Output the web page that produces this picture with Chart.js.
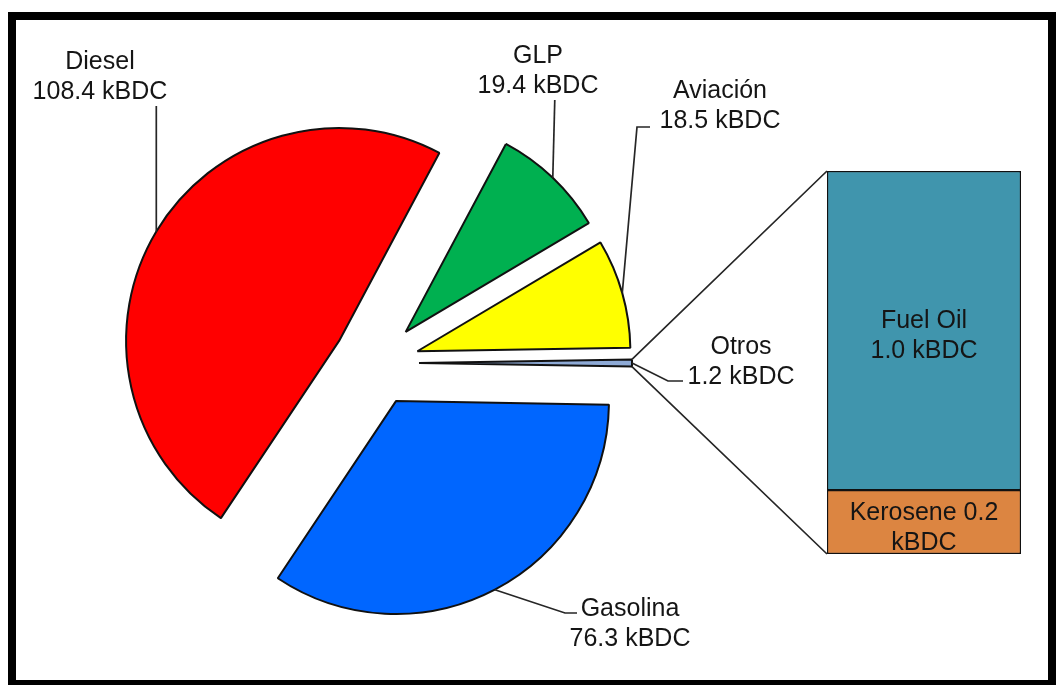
<!DOCTYPE html>
<html>
<head>
<meta charset="utf-8">
<script src="https://cdn.jsdelivr.net/npm/chart.js@4.4.0/dist/chart.umd.min.js"></script>
<style>
  html, body { margin: 0; padding: 0; background: #fff; }
  #wrap { position: relative; width: 1058px; height: 685px; overflow: hidden; background: #fff; }
  #wrap canvas { position: absolute; left: 0; top: 0; }
  #frame {
    position: absolute; left: 8px; top: 12px; width: 1048px; height: 676px;
    border: 8px solid #000; box-sizing: border-box; pointer-events: none;
  }
</style>
</head>
<body>
<div id="wrap">
  <canvas id="pie" width="1058" height="685"></canvas>
  <canvas id="bar" width="1058" height="685"></canvas>
  <div id="frame"></div>
</div>
<script>
// Demand by product (kBDC)
const categories = ['Gasolina', 'Diesel', 'GLP', 'Aviación', 'Otros'];
const volumes = [76.3, 108.4, 19.4, 18.5, 1.2];
const sliceColors = ['#0066ff', '#ff0000', '#00b050', '#ffff00', '#8eaad6'];

// Breakdown of "Otros" (stacked from the bottom)
const otrosParts = ['Kerosene', 'Fuel Oil'];
const otrosValues = [0.2, 1.0];
const otrosColors = ['#dc8541', '#4095ad'];

const unit = 'kBDC';

// Layout
const PIE_R = 213;
const SHIFT = 43;                    // distance each slice is pulled out from the centre
const FONT = '25px "Liberation Sans", Arial, sans-serif';
const TEXT = '#151515';
const LINE = '#262626';
const EDGE = '#111111';

const total = volumes.reduce((a, b) => a + b, 0);
const otrosIndex = categories.indexOf('Otros');
const otrosTotal = otrosValues.reduce((a, b) => a + b, 0);

const fmt = v => v.toFixed(1) + ' ' + unit;

// Outside label placement per category: text centre, first baseline, leader path after the arc anchor
const labelLayout = {
  'Diesel':   { x: 100, y: 69,  leader: a => [[a.x, 106]] },
  'GLP':      { x: 538, y: 63,  leader: a => [[a.x + 2, 100]] },
  'Aviación': { x: 720, y: 98,  leader: a => [[637, 127], [650, 127]] },
  'Gasolina': { x: 630, y: 616, leader: a => [[565, 613], [577, 613]] },
  'Otros':    { x: 741, y: 354, leader: a => [[668, 381], [683, 381]] }
};

function arcGeom(chart, i) {
  const arc = chart.getDatasetMeta(0).data[i];
  const mid = (arc.startAngle + arc.endAngle) / 2;
  const at = ang => ({ x: arc.x + Math.cos(ang) * PIE_R, y: arc.y + Math.sin(ang) * PIE_R });
  return { arc, mid, at };
}

// Exploded pie: move every slice outward along its bisector
const explode = {
  id: 'explode',
  afterDatasetUpdate(chart, args) {
    args.meta.data.forEach(arc => {
      const mid = (arc.startAngle + arc.endAngle) / 2;
      arc.x += Math.cos(mid) * SHIFT;
      arc.y += Math.sin(mid) * SHIFT;
    });
  }
};

const pieLabels = {
  id: 'pieLabels',
  afterDraw(chart) {
    const ctx = chart.ctx;
    ctx.save();
    ctx.font = FONT;
    ctx.textAlign = 'center';
    ctx.textBaseline = 'alphabetic';
    categories.forEach((name, i) => {
      const lay = labelLayout[name];
      const g = arcGeom(chart, i);
      const anchor = g.at(g.mid);
      ctx.strokeStyle = LINE;
      ctx.lineWidth = 1.7;
      ctx.beginPath();
      ctx.moveTo(anchor.x, anchor.y);
      lay.leader(anchor).forEach(p => ctx.lineTo(p[0], p[1]));
      ctx.stroke();
      ctx.fillStyle = TEXT;
      ctx.fillText(name, lay.x, lay.y);
      ctx.fillText(fmt(volumes[i]), lay.x, lay.y + 30);
    });
    ctx.restore();
  }
};

const pieChart = new Chart(document.getElementById('pie'), {
  type: 'pie',
  data: {
    labels: categories,
    datasets: [{
      data: volumes,
      backgroundColor: sliceColors,
      borderColor: EDGE,
      borderWidth: 2,
      offset: 0,
      hoverOffset: 0
    }]
  },
  options: {
    responsive: false,
    animation: false,
    events: [],
    rotation: 90 + (volumes[otrosIndex] / total) * 180,
    radius: PIE_R,
    layout: { padding: { left: 0, right: 306, top: 41, bottom: 0 } },
    plugins: { legend: { display: false }, tooltip: { enabled: false } }
  },
  plugins: [explode, pieLabels]
});

// Connectors from the "Otros" slice to the breakdown bar, plus labels inside the bar
const barDecor = {
  id: 'barDecor',
  afterDraw(chart) {
    const ctx = chart.ctx;
    const metas = otrosParts.map((_, i) => chart.getDatasetMeta(i).data[0]);
    const topBar = metas[metas.length - 1];
    const bottomBar = metas[0];
    const left = topBar.x - topBar.width / 2;

    const g = arcGeom(pieChart, otrosIndex);
    const pA = g.at(g.arc.endAngle);
    const pB = g.at(g.arc.startAngle);
    const upper = pA.y < pB.y ? pA : pB;
    const lower = pA.y < pB.y ? pB : pA;

    ctx.save();
    ctx.strokeStyle = LINE;
    ctx.lineWidth = 1.7;
    ctx.beginPath();
    ctx.moveTo(upper.x, upper.y);
    ctx.lineTo(left, topBar.y);
    ctx.moveTo(lower.x, lower.y);
    ctx.lineTo(left, bottomBar.base);
    ctx.stroke();

    ctx.font = FONT;
    ctx.textAlign = 'center';
    ctx.textBaseline = 'middle';
    ctx.fillStyle = TEXT;
    metas.forEach((bar, i) => {
      const name = otrosParts[i];
      const mid = (bar.y + bar.base) / 2 + 6;
      const val = otrosValues[i].toFixed(1);
      const lines = name === 'Kerosene'
        ? [name + ' ' + val, unit]
        : [name, val + ' ' + unit];
      ctx.fillText(lines[0], bar.x, mid - 15);
      ctx.fillText(lines[1], bar.x, mid + 15);
    });
    ctx.restore();
  }
};

new Chart(document.getElementById('bar'), {
  type: 'bar',
  data: {
    labels: ['Otros'],
    datasets: otrosParts.map((name, i) => ({
      label: name,
      data: [otrosValues[i]],
      backgroundColor: otrosColors[i],
      borderColor: EDGE,
      borderWidth: 1.5,
      borderSkipped: false,
      categoryPercentage: 1,
      barPercentage: 1
    }))
  },
  options: {
    responsive: false,
    animation: false,
    events: [],
    layout: { padding: { left: 827, right: 37, top: 171, bottom: 131 } },
    scales: {
      x: { display: false, stacked: true },
      y: { display: false, stacked: true, min: 0, max: otrosTotal }
    },
    plugins: { legend: { display: false }, tooltip: { enabled: false } }
  },
  plugins: [barDecor]
});
</script>
</body>
</html>
